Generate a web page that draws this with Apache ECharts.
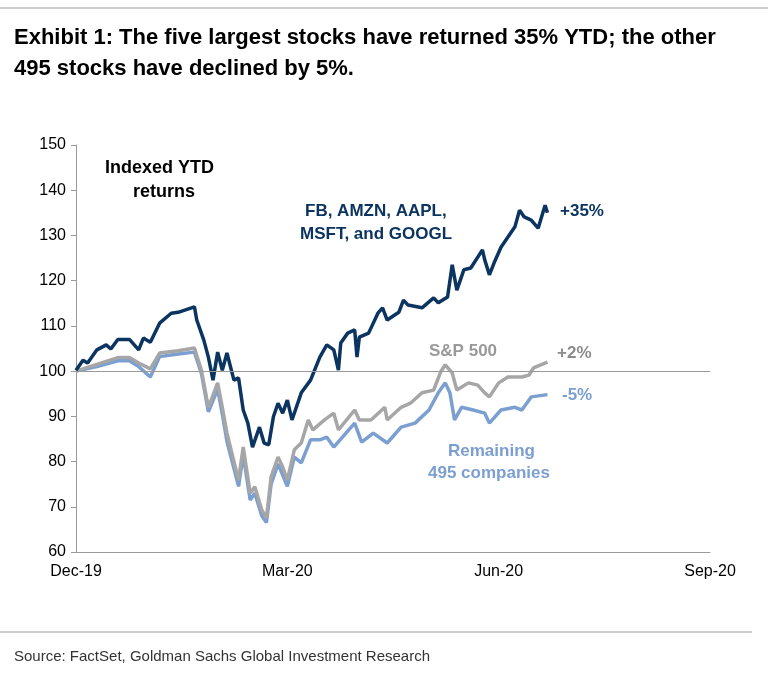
<!DOCTYPE html>
<html><head><meta charset="utf-8">
<script src="https://cdn.jsdelivr.net/npm/echarts@6/dist/echarts.min.js"></script>
<style>body{margin:0;background:#fff}#c{width:768px;height:675px}</style></head>
<body><div id="c"></div>
<script>
// x values = days since 31-Dec-2019
const xTickLabels = ['Dec-19','Mar-20','Jun-20','Sep-20'];
const top5 = [[0,100.2],[3,102.4],[5,101.8],[9,104.7],[13,105.8],[15,104.9],[18,107],[23,107],[27,104.7],[29,107.3],[32,106.4],[36,110.6],[41,112.8],[44,113],[51,114.2],[52,111.3],[55,106.9],[57,103.1],[59,98],[61,104.2],[63,100.2],[65,104],[68,98],[70,98.5],[72,91.4],[74,88.5],[76,83.2],[79,87.6],[81,84.1],[83,83.7],[85,89.9],[87,92.9],[89,90.7],[91,93.6],[93,89.2],[97,95.2],[101,98],[105,103.1],[108,105.8],[111,104.7],[113,100.2],[114,106.2],[117,108.4],[120,109.1],[121,103.1],[122,107.5],[126,108.4],[130,112.8],[132,114],[134,111.3],[139,113],[141,115.7],[143,114.6],[149,114],[154,116.2],[156,115.1],[160,116.4],[162,123.5],[164,117.9],[167,122.4],[170,122.8],[175,126.8],[176,124.6],[178,121.3],[180,123.9],[183,127.4],[189,131.9],[191,135.6],[193,134.1],[196,133.4],[199,131.6],[202,136.7],[203,135]];
const sp500 = [[0,100],[9,101.5],[18,103],[23,103],[27,101.8],[32,100.5],[36,104],[44,104.5],[51,105.1],[54,100.2],[57,92],[61,97.4],[63,92],[65,86.3],[70,75.9],[72,83.2],[75,73],[77,74.4],[80,69.3],[82,67.5],[84,76.6],[87,81],[89,78.8],[91,75.9],[94,82.6],[97,84.1],[100,89.2],[102,87],[107,89.2],[111,90.7],[113,87],[120,91.4],[122,89.2],[127,89.2],[133,92],[134,89.2],[140,92],[144,92.9],[149,95.2],[154,95.8],[157,99.8],[159,101.4],[162,99.6],[164,95.8],[169,97.4],[173,96.9],[176,95.2],[178,94.3],[182,97.4],[186,98.7],[192,98.7],[195,99.1],[197,100.7],[203,102]];
const rest495 = [[0,100],[9,101],[18,102.3],[23,102.3],[27,101],[32,98.7],[36,103.2],[44,103.8],[51,104.2],[54,99.5],[57,91],[61,96],[63,90.5],[65,84.5],[70,74.5],[72,81.5],[75,71.5],[77,73],[80,68],[82,66.5],[84,75],[87,79.5],[89,77],[91,74.5],[94,81],[97,79.7],[101,84.8],[105,84.8],[108,85.4],[111,83.2],[120,88.5],[123,84.3],[128,86.3],[134,84.1],[140,87.6],[146,88.5],[152,91.4],[156,95.2],[159,97.4],[161,95.2],[163,89.2],[166,92],[171,91.4],[176,90.7],[178,88.5],[183,91.4],[189,92],[192,91.4],[196,94.3],[203,94.8]];
const F = 'Liberation Sans, Arial, sans-serif';
const chart = echarts.init(document.getElementById('c'));
const ln = (d,c,z)=>({type:'line',data:d,showSymbol:false,z:z,lineStyle:{color:c,width:3.5},itemStyle:{color:c},animation:false});
const txt = (x,y,t,c,size,align)=>({type:'text',left:x,top:y,style:{text:t,fill:c,font:'bold '+(size||17)+'px '+F,textAlign:align||'left',lineHeight:23}});
chart.setOption({
  animation:false,
  grid:{left:76,right:58,top:145,bottom:123},
  xAxis:{type:'value',min:0,max:273,interval:91,
    axisLine:{lineStyle:{color:'#999'}},axisTick:{show:false},splitLine:{show:false},
    axisLabel:{color:'#000',fontSize:16,fontFamily:F,margin:12,formatter:(v)=>xTickLabels[Math.round(v/91)]}},
  yAxis:{type:'value',min:60,max:150,interval:10,
    axisLine:{show:true,lineStyle:{color:'#999'}},axisTick:{show:true,length:5,lineStyle:{color:'#999'}},splitLine:{show:false},
    axisLabel:{color:'#000',fontSize:16,fontFamily:F,margin:10}},
  series:[
    Object.assign(ln(sp500,'#a6a6a6',3),{markLine:{silent:true,symbol:'none',label:{show:false},lineStyle:{color:'#999',width:1,type:'solid'},data:[{yAxis:100}]}}),
    ln(rest495,'#7b9fd0',2),
    ln(top5,'#0b3560',4)
  ],
  graphic:[
    {type:'line',shape:{x1:0,y1:8,x2:768,y2:8},style:{stroke:'#999',lineWidth:1}},
    {type:'text',left:14,top:22,style:{text:'Exhibit 1: The five largest stocks have returned 35% YTD; the other\n495 stocks have declined by 5%.',fill:'#000',font:'bold 22px '+F,lineHeight:31}},
    txt(105,157,'Indexed YTD','#000',18),
    txt(133,181,'returns','#000',18),
    txt(305,200,'FB, AMZN, AAPL,','#0b3560'),
    txt(300,223,'MSFT, and GOOGL','#0b3560'),
    txt(560,200,'+35%','#0b3560'),
    txt(429,340,'S&P 500','#999'),
    txt(557,342,'+2%','#8c8c8c'),
    txt(562,384,'-5%','#7b9fd0'),
    txt(448,440,'Remaining','#7b9fd0'),
    txt(428,462,'495 companies','#7b9fd0'),
    {type:'line',shape:{x1:0,y1:632,x2:752,y2:632},style:{stroke:'#999',lineWidth:1}},
    {type:'text',left:14,top:649,style:{text:'Source: FactSet, Goldman Sachs Global Investment Research',fill:'#333',font:'15px '+F}}
  ]
});
</script></body></html>
